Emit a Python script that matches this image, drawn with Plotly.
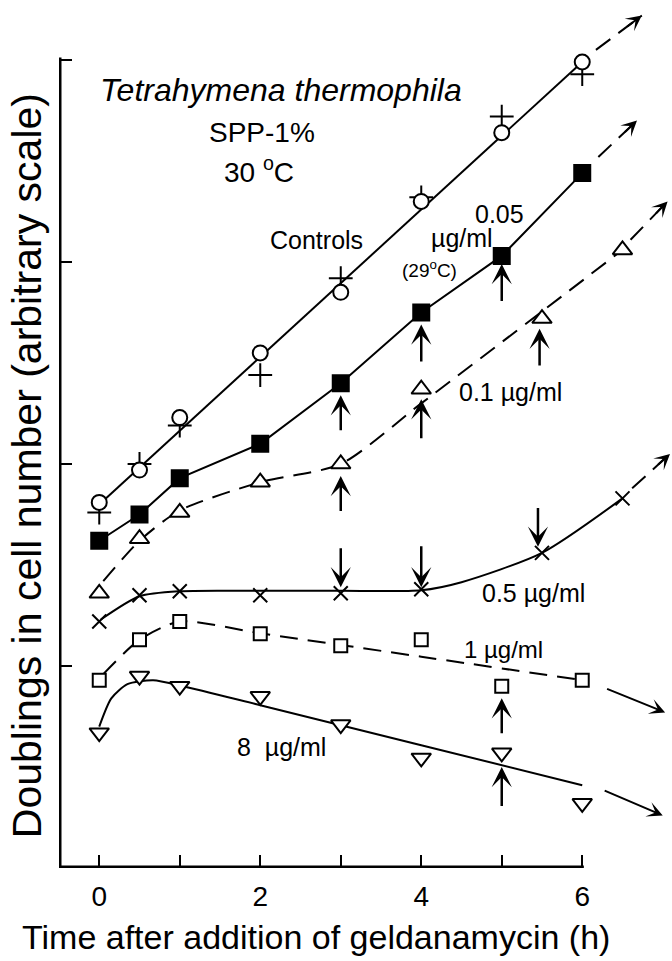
import plotly.graph_objects as go

# ---------------- data ----------------
hours = [0, 0.5, 1, 2, 3, 4, 5, 6]
controls_circle = [1.81, 1.97, 2.23, 2.55, 2.85, 3.30, 3.64, 3.99]
controls_plus = [1.76, 2.00, 2.19, 2.44, 2.92, 3.32, 3.72, 3.93]
ga005 = [1.62, 1.75, 1.93, 2.10, 2.40, 2.75, 3.03, 3.44]
ga01_t = [0, 0.5, 1, 2, 3, 4, 5.5, 6.5]
ga01 = [1.36, 1.63, 1.76, 1.91, 2.00, 2.37, 2.72, 3.06]
ga05_t = [0, 0.5, 1, 2, 3, 4, 5.5, 6.5]
ga05 = [1.22, 1.35, 1.37, 1.35, 1.36, 1.38, 1.56, 1.83]
ga1 = [0.93, 1.13, 1.22, 1.16, 1.10, 1.13, 0.90, 0.93]
ga8 = [0.67, 0.95, 0.90, 0.85, 0.71, 0.545, 0.57, 0.32]

# hand-drawn fit curves
fit_ctrl_t = [0, 6]
fit_ctrl_y = [1.80, 3.99]
fit01_t = [0.05, 0.5, 1, 2, 3, 4, 5.5, 6.5]
fit01_y = [1.42, 1.62, 1.77, 1.91, 2.00, 2.30, 2.755, 3.06]
fit05_t = [0.02, 0.5, 1, 2, 3, 4, 4.5, 5.5, 6.5]
fit05_y = [1.23, 1.345, 1.37, 1.372, 1.372, 1.375, 1.415, 1.56, 1.83]
fit1_t = [0.05, 0.5, 1, 2, 4, 6]
fit1_y = [0.96, 1.13, 1.22, 1.162, 1.046, 0.93]
fit8_t = [0.0, 0.15, 0.35, 0.67, 1.04, 2, 4, 6]
fit8_y = [0.70, 0.84, 0.91, 0.93, 0.90, 0.806, 0.608, 0.41]

# continuation arrows at the right (start, tip, dashed?)
ext_start_t = [6.17, 6.20, 6.60, 6.62, 6.29, 6.26]
ext_start_y = [4.05, 3.52, 3.11, 1.88, 0.89, 0.386]
ext_tip_t = [6.74, 6.68, 7.06, 7.09, 7.03, 7.00]
ext_tip_y = [4.22, 3.70, 3.30, 2.05, 0.77, 0.26]
ext_dashed = [True, True, True, True, False, False]

# vertical arrows (x, tail y, tip y)
varrow_t = [3, 3, 4, 4, 5, 5.47, 5, 5, 3, 4, 5.45]
varrow_tail = [2.16, 1.76, 2.50, 2.12, 2.80, 2.48, 0.66, 0.30, 1.59, 1.60, 1.79]
varrow_tip = [2.34, 1.94, 2.69, 2.32, 2.99, 2.67, 0.84, 0.50, 1.39, 1.39, 1.59]

x_major_ticks = [0, 2, 4, 6]
x_minor_ticks = [1, 3, 5]
y_ticks = [1, 2, 3, 4]

FONT = "Liberation Sans, Arial, Helvetica, sans-serif"
DASH = "18px,10px"
LW = 2

fig = go.Figure()

def line(t, y, dash="solid", shape="spline", smoothing=0.7):
    fig.add_trace(go.Scatter(x=t, y=y, mode="lines", cliponaxis=False,
                             line=dict(color="black", width=LW, dash=dash,
                                       shape=shape, smoothing=smoothing),
                             hoverinfo="skip", showlegend=False))

line(fit_ctrl_t, fit_ctrl_y, shape="linear")
line(hours, ga005, shape="linear")
line(fit01_t, fit01_y, dash=DASH)
line(fit05_t, fit05_y)
line(fit1_t, fit1_y, dash=DASH)
line(fit8_t, fit8_y)

# dashed shafts of the continuation arrows
for i in range(len(ext_start_t)):
    if ext_dashed[i]:
        line([ext_start_t[i], ext_tip_t[i]], [ext_start_y[i], ext_tip_y[i]],
             dash=DASH, shape="linear")

def markers(t, y, symbol, size, fill="white"):
    fig.add_trace(go.Scatter(x=t, y=y, mode="markers", cliponaxis=False,
                             marker=dict(symbol=symbol, size=size, color=fill,
                                         line=dict(color="black", width=2)),
                             hoverinfo="skip", showlegend=False))

markers(hours, controls_plus, "cross-thin-open", 17, fill="black")
markers(hours, controls_circle, "circle", 15)
markers(hours, ga005, "square", 16, fill="black")
markers(ga01_t, ga01, "triangle-up", 17)
markers(ga05_t, ga05, "x-thin-open", 14, fill="black")
markers(hours, ga1, "square", 13)
markers(hours, ga8, "triangle-down", 17)

ann = []
# arrow heads of continuation arrows
for i in range(len(ext_start_t)):
    if ext_dashed[i]:
        f = 0.65
        tail_t = ext_start_t[i] + f * (ext_tip_t[i] - ext_start_t[i])
        tail_y = ext_start_y[i] + f * (ext_tip_y[i] - ext_start_y[i])
    else:
        tail_t, tail_y = ext_start_t[i], ext_start_y[i]
    ann.append(dict(x=ext_tip_t[i], y=ext_tip_y[i], ax=tail_t, ay=tail_y,
                    xref="x", yref="y", axref="x", ayref="y", text="",
                    showarrow=True, arrowhead=3, arrowsize=1.3, arrowwidth=2,
                    arrowcolor="black", standoff=0, startstandoff=0))
# vertical arrows
for i in range(len(varrow_t)):
    ann.append(dict(x=varrow_t[i], y=varrow_tip[i], ax=varrow_t[i], ay=varrow_tail[i],
                    xref="x", yref="y", axref="x", ayref="y", text="",
                    showarrow=True, arrowhead=3, arrowsize=1.35, arrowwidth=2.5,
                    arrowcolor="black", standoff=0, startstandoff=0))

def label(t, y, text, size=25, italic=False):
    ann.append(dict(x=t, y=y, xref="x", yref="y", text=text, showarrow=False,
                    xanchor="center", yanchor="middle",
                    font=dict(family=FONT, size=size, color="black",
                              style="italic" if italic else "normal")))

label(2.26, 3.85, "Tetrahymena thermophila", size=32, italic=True)
label(2.02, 3.64, "SPP-1%", size=28)
label(1.98, 3.455, "30 <sup>o</sup>C", size=28)
label(2.70, 3.11, "Controls", size=25)
label(4.97, 3.24, "0.05", size=25)
label(4.51, 3.12, "µg/ml", size=25)
label(4.10, 2.965, "(29<sup>o</sup>C)", size=19)
label(5.11, 2.356, "0.1 µg/ml", size=25)
label(5.40, 1.361, "0.5 µg/ml", size=25)
label(5.02, 1.08, "1 µg/ml", size=24)
label(2.27, 0.60, "8\u00a0 µg/ml", size=25)

# axis titles
ann.append(dict(x=-0.052, y=0.4685, xref="paper", yref="paper",
                text="Doublings in cell number (arbitrary scale)", textangle=-90,
                showarrow=False, xanchor="center", yanchor="middle",
                font=dict(family=FONT, size=41, color="black")))
ann.append(dict(x=0.419, y=-0.0804, xref="paper", yref="paper",
                text="Time after addition of geldanamycin (h)",
                showarrow=False, xanchor="center", yanchor="middle",
                font=dict(family=FONT, size=34, color="black")))

TICK_LEN_X = 13 / 80.5  # y-axis tick length in data units of x
shapes = [
    dict(type="line", xref="x", yref="y", x0=-0.5, x1=6.02, y0=0, y1=0,
         line=dict(color="black", width=5)),
    dict(type="line", xref="x", yref="y", x0=-0.5, x1=-0.5, y0=-0.012, y1=4.012,
         line=dict(color="black", width=5)),
]
for v in y_ticks:
    shapes.append(dict(type="line", xref="x", yref="y", x0=-0.5, x1=-0.5 + TICK_LEN_X,
                       y0=v, y1=v, line=dict(color="black", width=2)))

fig.update_layout(
    width=672, height=961,
    margin=dict(l=59, r=0, t=10, b=93),
    paper_bgcolor="white", plot_bgcolor="white",
    font=dict(family=FONT, color="black"),
    showlegend=False,
    annotations=ann, shapes=shapes,
    xaxis=dict(range=[-0.5, 7.115], showgrid=False, zeroline=False, showline=False,
               tickmode="array", tickvals=x_major_ticks,
               ticks="inside", ticklen=13, tickwidth=2, tickcolor="black",
               ticklabelstandoff=9,
               minor=dict(tickmode="array", tickvals=x_minor_ticks, ticks="inside",
                          ticklen=13, tickwidth=2, tickcolor="black", showgrid=False),
               tickfont=dict(family=FONT, size=28, color="black")),
    yaxis=dict(range=[0, 4.2475], showgrid=False, zeroline=False, showline=False,
               showticklabels=False, ticks=""),
)

fig.write_html("out.html", config={"displayModeBar": False},
               post_script="document.body.style.margin='0px';"
                           "document.body.style.overflow='hidden';")
